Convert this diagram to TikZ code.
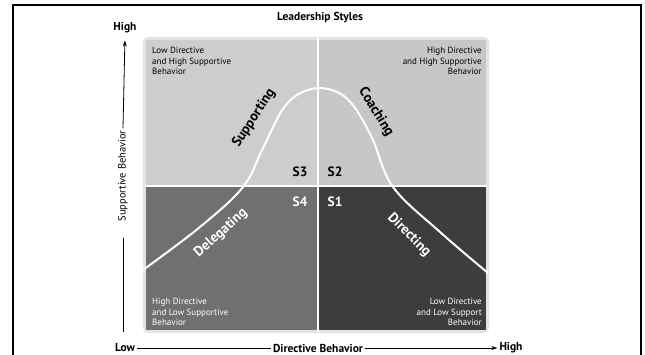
\documentclass[tikz,border=0pt]{standalone}
\usepackage{fontspec}
\setmainfont{PT Sans}
\usetikzlibrary{arrows.meta}
\definecolor{lightquad}{gray}{0.78}
\definecolor{midquad}{gray}{0.44}
\definecolor{darkquad}{gray}{0.24}
\begin{document}
\begin{tikzpicture}[
        x=1pt, y=-1pt,
        every node/.style={inner sep=2pt, font=\fontsize{9}{10.5}\selectfont},
        quad/.style={draw=none},
        corner/.style={align=left, anchor=north west},
        phase/.style={font=\fontsize{14}{16}\selectfont\bfseries, inner sep=0pt},
        stage/.style={font=\fontsize{13.5}{15}\selectfont\bfseries},
        axis/.style={font=\fontsize{11.5}{13}\selectfont\bfseries}
    ]
        \useasboundingbox (0,0) rectangle (645,355);
        \clip (0,0) rectangle (645,355);
        \draw[line width=1.2pt] (13,5) rectangle (641,370);

        \node[axis] (title) at (320,18) {Leadership Styles};

        \fill[gray!22, rounded corners=5pt] (143,37) rectangle (489,333);
        \fill[lightquad!90!white, quad] (146,40) rectangle (318,186);
        \fill[lightquad, quad] (318,40) rectangle (486,186);
        \fill[midquad, quad] (146,186) rectangle (318,330);
        \fill[darkquad, quad] (318,186) rectangle (486,330);
        \draw[white, line width=2.5pt] (318,38) -- (318,332);
        \draw[white, line width=2.5pt] (145,186) -- (487,186);

        \draw[white, line width=2pt] plot[smooth, tension=0.6] coordinates {
            (143,270) (200,227) (243,187) (263,148) (285,106) (308,90)
            (332,90) (352,104) (372,138) (393,187) (440,232) (488,273)};

        \node[corner] (tltext) at (150,45) {Low Directive\\and High Supportive\\Behavior};
        \node[corner, align=right, anchor=north east] (trtext) at (484,45) {High Directive\\and High Supportive\\Behavior};
        \node[corner, text=white, anchor=south west] (bltext) at (150,328) {High Directive\\and Low Supportive\\Behavior};
        \node[corner, text=white, align=right, anchor=south east] (brtext) at (484,328) {Low Directive\\and Low Support\\Behavior};

        \node[phase, rotate=57] (supporting) at (254,118) {Supporting};
        \node[phase, rotate=-58] (coaching) at (376,112) {Coaching};
        \node[phase, text=white, rotate=42] (delegating) at (221,233) {Delegating};
        \node[phase, text=white, rotate=-45] (directing) at (409,235) {Directing};

        \node[stage] (s3) at (300,172) {S3};
        \node[stage] (s2) at (335,172) {S2};
        \node[stage, text=white] (s4) at (300,202) {S4};
        \node[stage, text=white] (s1) at (335,202) {S1};

        \node[axis] (yhigh) at (125,28) {High};
        \node[rotate=90, font=\fontsize{10.5}{12}\selectfont] (ytext) at (123,176) {Supportive Behavior};
        \coordinate (ybottom) at (123,332);
        \draw[-{Stealth[length=6pt, width=4pt]}, line width=0.8pt, shorten >=5pt] (ytext.east) -- (yhigh.south);
        \draw[line width=0.8pt, shorten <=14pt] (ytext.west) -- (ybottom);

        \node[axis] (xlow) at (125,348) {Low};
        \node[axis] (xtext) at (318,348) {Directive Behavior};
        \node[axis] (xhigh) at (511,348) {High};
        \draw[line width=0.6pt] (xlow) -- (xtext);
        \draw[-{Stealth[length=6pt, width=4pt]}, line width=0.6pt] (xtext) -- (xhigh);
    \end{tikzpicture}
\end{document}
